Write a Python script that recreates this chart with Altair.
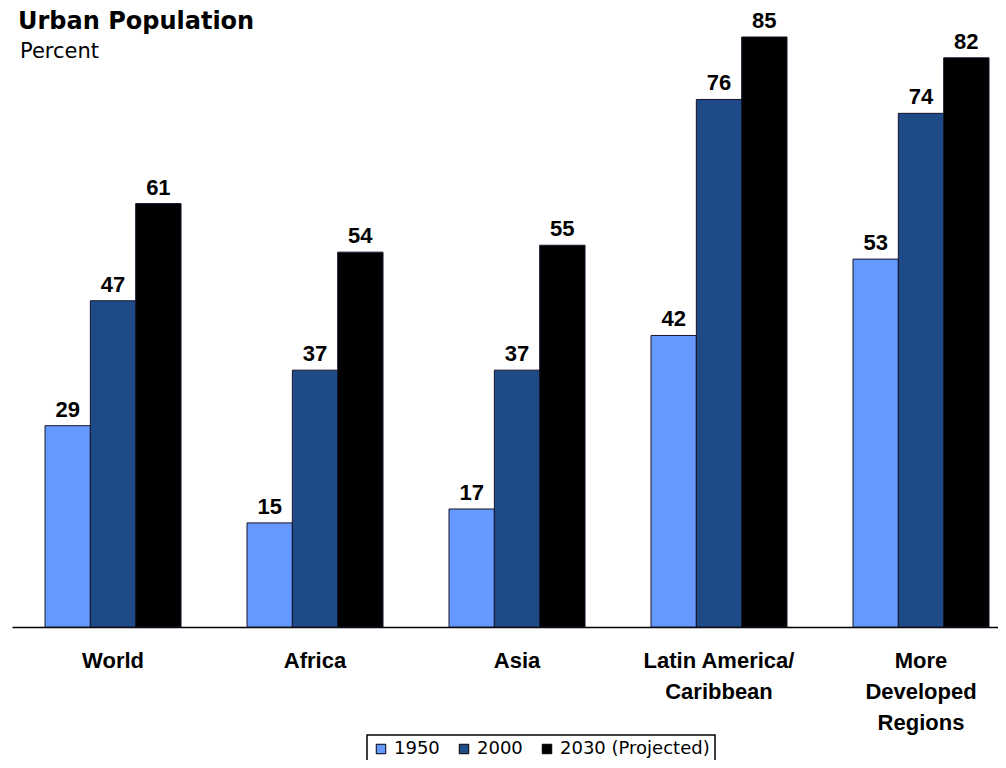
import altair as alt
import pandas as pd

categories = ["World", "Africa", "Asia", "Latin America/\nCaribbean", "More\nDeveloped\nRegions"]
years = ["1950", "2000", "2030 (Projected)"]
v1950 = [29, 15, 17, 42, 53]
v2000 = [47, 37, 37, 76, 74]
v2030 = [61, 54, 55, 85, 82]
colors = ["#6699FF", "#1E4B87", "#000000"]
title_text = "Urban Population"
subtitle_text = "Percent"

rows = []
for series, vals in zip(years, [v1950, v2000, v2030]):
    for cat, v in zip(categories, vals):
        rows.append({"region": cat, "year": series, "value": v})
df = pd.DataFrame(rows)

x_enc = alt.X(
    "region:N",
    sort=categories,
    scale=alt.Scale(paddingInner=0.3267, paddingOuter=0.104, align=0.786),
    axis=alt.Axis(
        title=None,
        labelAngle=0,
        ticks=False,
        grid=False,
        domainColor="#000000",
        domainWidth=1.5,
        labelFont="Liberation Sans",
        labelFontWeight="bold",
        labelFontSize=22,
        labelColor="#000000",
        labelLineHeight=31,
        labelPadding=23,
        labelExpr="split(datum.label, '\\n')",
    ),
)
xo_enc = alt.XOffset("year:N", sort=years, scale=alt.Scale(paddingInner=0, paddingOuter=0))
y_enc = alt.Y("value:Q", scale=alt.Scale(domain=[0, 88.6], nice=False, zero=True), axis=None)

base = alt.Chart(df)

bars = base.mark_bar(stroke="#15152a", strokeWidth=1).encode(
    x=x_enc,
    xOffset=xo_enc,
    y=y_enc,
    color=alt.Color(
        "year:N",
        sort=years,
        scale=alt.Scale(domain=years, range=colors),
        legend=alt.Legend(
            title=None,
            orient="none",
            legendX=355,
            legendY=723,
            direction="horizontal",
            symbolType="square",
            symbolSize=90,
            symbolStrokeColor="#000000",
            symbolStrokeWidth=1,
            labelFont="DejaVu Sans",
            labelFontSize=18,
            labelColor="#000000",
            labelOffset=4,
            columnPadding=15,
            padding=5,
            strokeColor="#000000",
            fillColor="#FFFFFF",
        ),
    ),
)

labels = base.mark_text(
    font="Liberation Sans",
    fontWeight="bold",
    fontSize=22,
    baseline="alphabetic",
    dy=-9,
    color="#000000",
).encode(
    x=x_enc,
    xOffset=xo_enc,
    y=y_enc,
    text=alt.Text("value:Q"),
)

title_mark = alt.Chart(pd.DataFrame({"t": [title_text]})).mark_text(
    font="DejaVu Sans", fontWeight="bold", fontSize=24, align="left", baseline="alphabetic", color="#000000"
).encode(text="t:N", x=alt.value(6), y=alt.value(17))

subtitle_mark = alt.Chart(pd.DataFrame({"t": [subtitle_text]})).mark_text(
    font="DejaVu Sans", fontSize=21, align="left", baseline="alphabetic", color="#000000"
).encode(text="t:N", x=alt.value(8), y=alt.value(46))

chart = alt.layer(bars, labels, title_mark, subtitle_mark).properties(
    width=986,
    height=615,
    autosize=alt.AutoSizeParams(type="none"),
    padding={"left": 4, "top": 4, "right": 0, "bottom": 133},
).configure_view(stroke=None).configure_legend(strokeWidth=1.5)

chart.save("out.html", embed_options={"renderer": "svg", "actions": False})
